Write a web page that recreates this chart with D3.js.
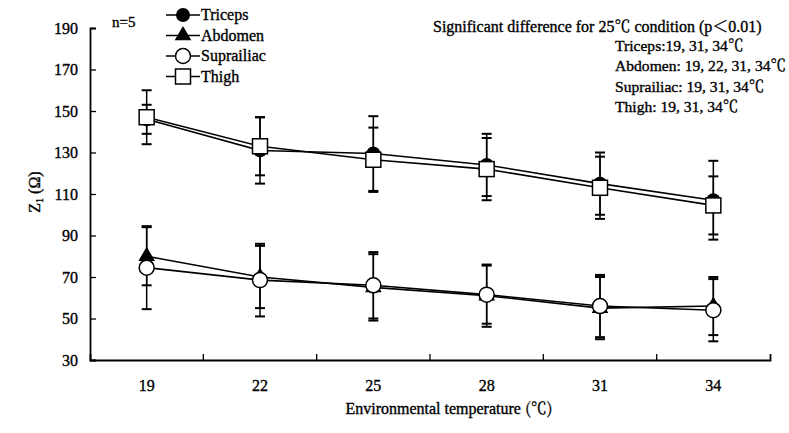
<!DOCTYPE html>
<html>
<head>
<meta charset="utf-8">
<script src="https://cdn.jsdelivr.net/npm/d3@7"></script>
</head>
<body style="margin:0; background:#fff">
<div class="chart"></div>
<script>
// Data
const temps = ['19', '22', '25', '28', '31', '34'];
const yTicks = [30, 50, 70, 90, 110, 130, 150, 170, 190];

const tricepsMean = [146, 131, 129.5, 124, 115, 107];
const tricepsErr = [7, 16, 18, 15, 15, 19];
const abdomenMean = [80, 70, 65, 61, 55, 56];
const abdomenErr = [14, 15, 16, 15, 15, 14];
const suprailiacMean = [74.5, 68.5, 66, 61.5, 56, 54];
const suprailiacErr = [20, 17.5, 16, 14, 15, 15];
const thighMean = [147, 133, 126.5, 122, 113, 104.5];
const thighErr = [13, 14, 15.5, 15, 15, 14];

const seriesNames = ['Triceps', 'Abdomen', 'Suprailiac', 'Thigh'];
const sigLabels = ['Triceps:', 'Abdomen: ', 'Suprailiac: ', 'Thigh: '];
const sigTemps = ['19, 31, 34', '19, 22, 31, 34', '19, 31, 34', '19, 31, 34'];

// draw order: lower group first, thigh on top
const series = [
    {name: 'Abdomen', mean: abdomenMean, err: abdomenErr, marker: 'triangle'},
    {name: 'Suprailiac', mean: suprailiacMean, err: suprailiacErr, marker: 'open'},
    {name: 'Triceps', mean: tricepsMean, err: tricepsErr, marker: 'filled'},
    {name: 'Thigh', mean: thighMean, err: thighErr, marker: 'square'}
];

const width = 789, height = 433;
const SERIF = 'Liberation Serif';
const CJK = 'Noto Serif CJK SC';
const DEG = '\u2103';

const x = d3.scaleBand().domain(temps).range([90, 770]).padding(0);
const y = d3.scaleLinear().domain([30, 190]).range([360, 28]);

const svg = d3.select('.chart')
    .append('svg')
    .attr('width', width)
    .attr('height', height);

function styleText(sel, size) {
    return sel
        .attr('font-family', SERIF)
        .attr('font-size', size)
        .attr('fill', '#000')
        .attr('stroke', '#000')
        .attr('stroke-width', 0.35);
}
function cjk(parent, txt) {
    return parent.append('tspan').attr('font-family', CJK).text(txt);
}

// Axes
const yAxis = d3.axisLeft(y)
    .tickValues(yTicks)
    .tickSizeInner(-6)
    .tickSizeOuter(-6)
    .tickPadding(12);

svg.append('g')
    .attr('class', 'y axis')
    .attr('transform', 'translate(90,0)')
    .call(yAxis);

const xAxis = d3.axisBottom(x)
    .tickSizeInner(0)
    .tickSizeOuter(-6)
    .tickPadding(20);

const xAxisDraw = svg.append('g')
    .attr('class', 'x axis')
    .attr('transform', 'translate(0,360)')
    .call(xAxis);

// tick marks at the band boundaries
xAxisDraw.selectAll('.bound')
    .data(temps.slice(0, -1))
    .enter()
    .append('line')
    .attr('x1', d => x(d) + x.bandwidth())
    .attr('x2', d => x(d) + x.bandwidth())
    .attr('y1', 0)
    .attr('y2', -6)
    .attr('stroke', '#000')
    .attr('stroke-width', 1.3);

svg.selectAll('.axis path').attr('stroke', '#000').attr('stroke-width', 1.8);
svg.selectAll('.axis .tick line').attr('stroke', '#000').attr('stroke-width', 1.3);
styleText(svg.selectAll('.axis text'), 16);

// Axis titles
const xTitle = styleText(svg.append('text'), 16)
    .attr('x', 449)
    .attr('y', 414)
    .attr('text-anchor', 'middle');
xTitle.append('tspan').text('Environmental temperature ');
cjk(xTitle, '(' + DEG + ')');

const yTitle = styleText(svg.append('text'), 16)
    .attr('transform', 'translate(40,192) rotate(-90)')
    .attr('text-anchor', 'middle');
yTitle.append('tspan').text('Z');
yTitle.append('tspan').text('1').attr('font-size', 10).attr('dy', 3);
yTitle.append('tspan').text(' (\u03a9)').attr('dy', -3);

// Lines
const cx = i => x(temps[i]) + x.bandwidth() / 2;
const line = d3.line().x((d, i) => cx(i)).y(d => y(d));

svg.append('g')
    .selectAll('path')
    .data(series)
    .enter()
    .append('path')
    .attr('d', d => line(d.mean))
    .attr('fill', 'none')
    .attr('stroke', '#000')
    .attr('stroke-width', 1.6);

// Error bars
const bars = svg.append('g');
series.forEach(s => {
    s.mean.forEach((m, i) => {
        const g = bars.append('g');
        g.append('line')
            .attr('x1', cx(i)).attr('x2', cx(i))
            .attr('y1', y(m + s.err[i])).attr('y2', y(m - s.err[i]))
            .attr('stroke', '#000').attr('stroke-width', 1.5);
        [m + s.err[i], m - s.err[i]].forEach(v => {
            g.append('line')
                .attr('x1', cx(i) - 5).attr('x2', cx(i) + 5)
                .attr('y1', y(v)).attr('y2', y(v))
                .attr('stroke', '#000').attr('stroke-width', 2);
        });
    });
});

// Markers
function drawMarker(g, type, px, py) {
    if (type === 'filled') {
        g.append('circle').attr('cx', px).attr('cy', py).attr('r', 7)
            .attr('fill', '#000');
    } else if (type === 'open') {
        g.append('circle').attr('cx', px).attr('cy', py).attr('r', 7.5)
            .attr('fill', '#fff').attr('stroke', '#000').attr('stroke-width', 1.5);
    } else if (type === 'triangle') {
        g.append('path')
            .attr('d', d3.symbol().type(d3.symbolTriangle).size(120))
            .attr('transform', `translate(${px},${py})`)
            .attr('fill', '#000');
    } else {
        g.append('rect').attr('x', px - 7.5).attr('y', py - 7.5)
            .attr('width', 15).attr('height', 15)
            .attr('fill', '#fff').attr('stroke', '#000').attr('stroke-width', 1.5);
    }
}

const marks = svg.append('g');
series.forEach(s => {
    s.mean.forEach((m, i) => drawMarker(marks, s.marker, cx(i), y(m)));
});

// Legend
const legend = svg.append('g').attr('class', 'legend');
seriesNames.forEach((name, i) => {
    const s = series.find(d => d.name === name);
    const ly = 15 + i * 20.5;
    legend.append('line')
        .attr('x1', 166).attr('x2', 200)
        .attr('y1', ly).attr('y2', ly)
        .attr('stroke', '#000').attr('stroke-width', 1.5);
    drawMarker(legend, s.marker, 183, ly);
    styleText(legend.append('text'), 16)
        .attr('x', 201)
        .attr('y', ly + 5)
        .text(name);
});

styleText(svg.append('text'), 15)
    .attr('x', 112)
    .attr('y', 27)
    .text('n=5');

// Significance note
const note = styleText(svg.append('text'), 16)
    .attr('x', 433)
    .attr('y', 32);
note.append('tspan').text('Significant difference for 25');
cjk(note, DEG);
note.append('tspan').text(' condition (p');
cjk(note, '\uff1c');
note.append('tspan').text('0.01)');

sigLabels.forEach((lab, i) => {
    const t = styleText(svg.append('text'), 15.6)
        .attr('x', 615)
        .attr('y', 51 + i * 20.3);
    t.append('tspan').text(lab + sigTemps[i]);
    cjk(t, DEG);
});
</script>
</body>
</html>
